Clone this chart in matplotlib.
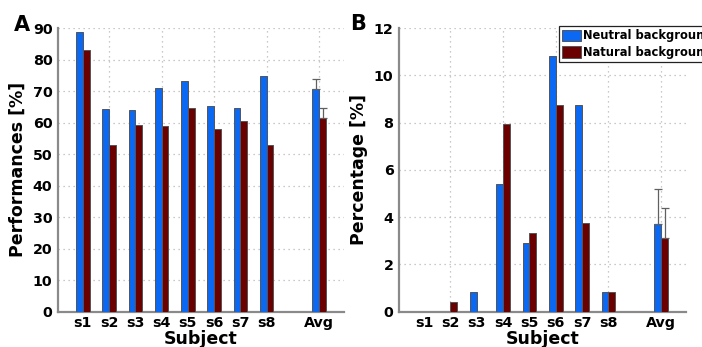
import matplotlib
matplotlib.use("Agg")
import matplotlib.pyplot as plt
import numpy as np

# Subjects and per-subject results
subjects = ["s1", "s2", "s3", "s4", "s5", "s6", "s7", "s8", "Avg"]
subject_pos = [1, 2, 3, 4, 5, 6, 7, 8, 10]

# Panel A: performances [%]
perf_neutral = [88.8, 64.2, 63.9, 70.9, 73.1, 65.1, 64.6, 74.7, 70.7]
perf_natural = [82.9, 53.0, 59.3, 58.9, 64.6, 58.1, 60.5, 53.0, 61.3]
perf_neutral_err = [0, 0, 0, 0, 0, 0, 0, 0, 3.0]
perf_natural_err = [0, 0, 0, 0, 0, 0, 0, 0, 3.3]

# Panel B: percentage [%]
pct_neutral = [0.0, 0.0, 0.83, 5.42, 2.92, 10.83, 8.75, 0.83, 3.70]
pct_natural = [0.0, 0.42, 0.0, 7.92, 3.33, 8.75, 3.75, 0.83, 3.13]
pct_neutral_err = [0, 0, 0, 0, 0, 0, 0, 0, 1.50]
pct_natural_err = [0, 0, 0, 0, 0, 0, 0, 0, 1.27]

series_labels = ["Neutral background", "Natural background"]
blue = "#0b68f2"
red = "#6a0000"
edge = "#555555"

plt.rcParams["font.family"] = "DejaVu Sans"
plt.rcParams["font.weight"] = "bold"

fig = plt.figure(figsize=(7.02, 3.47), dpi=100)
axA = fig.add_axes([0.0826, 0.1017, 0.4075, 0.8176])
axB = fig.add_axes([0.5685, 0.1017, 0.4090, 0.8176])

width = 0.26


def draw_panel(ax, neutral, natural, nerr, rerr, ylim, yticks, ylabel):
    x = np.array(subject_pos, dtype=float)
    bn = ax.bar(x - width / 2, neutral, width, color=blue, edgecolor=edge,
                linewidth=0.7, zorder=3, label=series_labels[0])
    br = ax.bar(x + width / 2, natural, width, color=red, edgecolor=edge,
                linewidth=0.7, zorder=3, label=series_labels[1])
    # one-sided (upward) error bars, only where an error is given
    for xs, vals, errs in ((x - width / 2, neutral, nerr), (x + width / 2, natural, rerr)):
        for xi, v, e in zip(xs, vals, errs):
            if e > 0:
                ax.errorbar(xi, v, yerr=[[0], [e]], fmt="none", ecolor="#606060",
                            elinewidth=0.9, capsize=3, capthick=0.9, zorder=4)
    ax.set_xlim(0.05, 10.95)
    ax.set_ylim(*ylim)
    ax.set_yticks(yticks)
    ax.set_xticks(subject_pos)
    ax.set_xticklabels(subjects)
    # vertical grid follows the even positions, independent of the labels
    ax.xaxis.remove_overlapping_locs = False
    ax.set_xticks([2, 4, 6, 8, 10], minor=True)
    ax.grid(axis="y", which="major", color="#b8b8b8", linestyle=(0, (1, 3)), linewidth=0.9)
    ax.grid(axis="x", which="minor", color="#b8b8b8", linestyle=(0, (1, 3)), linewidth=0.9)
    ax.grid(axis="x", which="major", visible=False)
    ax.set_axisbelow(True)
    ax.tick_params(axis="both", which="both", length=0, labelsize=10.3, pad=4)
    ax.tick_params(axis="x", pad=3)
    for s in ("top", "right"):
        ax.spines[s].set_visible(False)
    for s in ("left", "bottom"):
        ax.spines[s].set_color("#8a8a8a")
        ax.spines[s].set_linewidth(1.6)
    for lab in ax.get_xticklabels() + ax.get_yticklabels():
        lab.set_fontweight("bold")
    ax.set_xlabel("Subject", fontsize=12.5, fontweight="bold", labelpad=0)
    ax.set_ylabel(ylabel, fontsize=12.5, fontweight="bold", labelpad=4)
    return bn, br


draw_panel(axA, perf_neutral, perf_natural, perf_neutral_err, perf_natural_err,
           (0, 90), np.arange(0, 91, 10), "Performances [%]")
bn, br = draw_panel(axB, pct_neutral, pct_natural, pct_neutral_err, pct_natural_err,
                    (0, 12), np.arange(0, 13, 2), "Percentage [%]")

leg = fig.legend(handles=[bn, br], labels=series_labels, loc="upper left",
                 bbox_to_anchor=(559 / 702, 1 - 26 / 347), bbox_transform=fig.transFigure,
                 prop={"weight": "bold", "size": 8.3}, frameon=True,
                 fancybox=False, edgecolor="#222222", framealpha=1,
                 handlelength=1.65, handleheight=1.2, handletextpad=0.12,
                 borderpad=0.3, labelspacing=0.3, borderaxespad=0)
leg.get_frame().set_linewidth(0.9)

fig.text(14 / 702, 1 - 25 / 347, "A", fontsize=15, fontweight="bold", va="center", ha="left")
fig.text(350 / 702, 1 - 24 / 347, "B", fontsize=15, fontweight="bold", va="center", ha="left")

fig.savefig("out.png", dpi=100)
